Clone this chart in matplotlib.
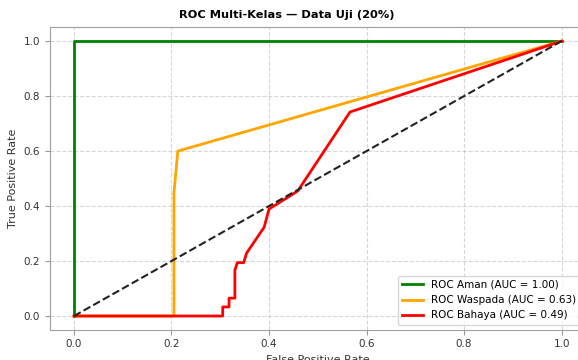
import matplotlib
matplotlib.use("Agg")
import matplotlib.pyplot as plt

fpr_aman = [0.0, 0.0, 1.0]
tpr_aman = [0.0, 1.0, 1.0]

fpr_waspada = [0.0, 0.205, 0.205, 0.213, 1.0]
tpr_waspada = [0.0, 0.0, 0.447, 0.60, 1.0]

fpr_bahaya = [0.0, 0.305, 0.305, 0.318, 0.318, 0.33, 0.33, 0.335, 0.348, 0.354, 0.39, 0.40, 0.459, 0.566, 1.0]
tpr_bahaya = [0.0, 0.0, 0.033, 0.033, 0.065, 0.065, 0.167, 0.194, 0.194, 0.229, 0.323, 0.389, 0.455, 0.742, 1.0]

labels = ["ROC Aman (AUC = 1.00)", "ROC Waspada (AUC = 0.63)", "ROC Bahaya (AUC = 0.49)"]
colors = ["green", "orange", "red"]

fig = plt.figure(figsize=(5.78, 3.6), dpi=100)
ax = fig.add_axes([0.0858, 0.084, 0.928, 0.84])
ax.plot(fpr_aman, tpr_aman, color=colors[0], lw=2, label=labels[0])
ax.plot(fpr_waspada, tpr_waspada, color=colors[1], lw=2, label=labels[1])
ax.plot(fpr_bahaya, tpr_bahaya, color=colors[2], lw=2, label=labels[2])
ax.plot([0, 1], [0, 1], color="#222222", ls="--", lw=1.5)
ax.set_xlim(-0.05, 1.05)
ax.set_ylim(-0.05, 1.05)
ax.set_xlabel("False Positive Rate", fontsize=8, color="#333333")
ax.set_ylabel("True Positive Rate", fontsize=8, color="#333333")
ax.set_title("ROC Multi-Kelas — Data Uji (20%)", fontsize=8.2, fontweight="bold",
             x=(287 - 49.6) / 536.4, pad=7)
ax.tick_params(labelsize=7.5, colors="#333333")
ax.tick_params(color="#999999")
for s in ax.spines.values():
    s.set_color("#a0a0a0")
ax.grid(True, linestyle="--", alpha=0.5)
ax.legend(loc="lower right", fontsize=7.5)
fig.savefig("out.png", dpi=100)
